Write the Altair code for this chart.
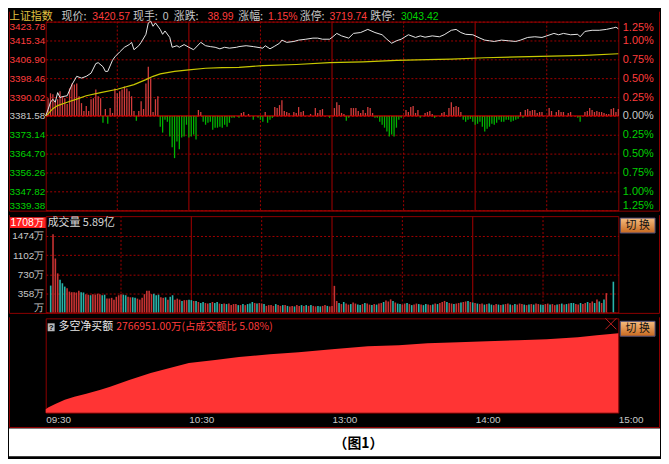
import altair as alt
import pandas as pd

PRE_CLOSE = 3381.58
W, H1, H2, H3 = 577, 190, 97, 95
LEFT, RIGHT = 37, 42
GRID = "#a00000"
BORDER = "#8c0000"
RED_T = "#ff3c3c"
GREEN_T = "#00d000"
GREY_T = "#c8c8c8"
CJK = "Noto Sans CJK SC"
NUM = "Liberation Sans"

# ---------------- data ----------------
price_ticks = [3339.38, 3347.82, 3356.26, 3364.70, 3373.14, 3381.58,
               3390.02, 3398.46, 3406.90, 3415.34, 3423.78]
time_tick_min = [0, 60, 120, 180, 240]
time_tick_lab = ["09:30", "10:30", "13:00", "14:00", "15:00"]
grid_solid_min = [60, 120, 180]
grid_dot_min = [30, 90, 150, 210]
vol_ticks = [0, 358, 730, 1102, 1474]

price_min = [0, 1, 2, 3, 4, 5, 6, 7, 9, 11, 13, 15, 17, 19, 21, 22, 24, 25, 26, 28,
             29, 31, 33, 35, 36, 37, 39, 40, 42, 43, 44, 45, 46, 48, 49, 50, 52, 53, 55, 56,
             58, 60, 62, 65, 67, 69, 71, 73, 75, 77, 80, 81, 84, 87, 91, 92, 94, 96, 98, 99,
             101, 104, 106, 109, 112, 114, 116, 119, 120, 122, 124, 127, 129, 132, 135, 138, 141, 143, 145, 147,
             149, 152, 155, 157, 159, 162, 165, 167, 170, 172, 174, 176, 179, 182, 184, 186, 188, 191, 194, 197,
             199, 202, 205, 208, 210, 213, 215, 217, 220, 223, 224, 226, 229, 232, 235, 238, 239, 240]
price_val = [3381.6, 3384.5, 3387.7, 3389.0, 3387.7, 3392.0, 3389.8, 3390.2, 3390.6, 3395.6,
             3399.3, 3398.5, 3399.3, 3400.7, 3405.0, 3405.4, 3403.6, 3401.5, 3401.5, 3406.5,
             3408.0, 3410.2, 3412.3, 3413.5, 3414.5, 3411.2, 3413.0, 3414.5, 3418.1, 3423.2,
             3424.0, 3421.7, 3423.2, 3420.3, 3418.1, 3419.6, 3416.7, 3412.3, 3413.0, 3412.3,
             3413.5, 3412.3, 3411.2, 3414.5, 3413.0, 3412.6, 3412.3, 3411.6, 3412.3, 3411.9,
             3412.3, 3412.6, 3413.0, 3412.6, 3411.9, 3413.0, 3411.6, 3412.8, 3414.1, 3415.5,
             3414.5, 3414.9, 3415.5, 3415.9, 3416.4, 3416.4, 3415.9, 3415.9, 3416.7, 3418.5,
             3417.4, 3416.4, 3418.5, 3418.9, 3420.3, 3418.9, 3417.9, 3415.9, 3414.1, 3415.2,
             3415.9, 3417.9, 3416.7, 3417.4, 3416.8, 3417.4, 3417.0, 3417.9, 3419.9, 3420.3,
             3418.9, 3418.1, 3417.9, 3416.4, 3415.5, 3415.2, 3414.9, 3415.5, 3415.2, 3414.9,
             3415.5, 3416.7, 3417.0, 3416.7, 3417.4, 3418.5, 3417.9, 3418.5, 3417.9, 3418.1,
             3417.0, 3419.4, 3419.9, 3419.9, 3420.3, 3421.0, 3421.3, 3420.6]

avg_min = [0, 1, 3, 5, 9, 13, 17, 23, 30, 37, 42, 45, 48, 54, 60, 67, 74, 81, 91, 105,
           119, 133, 147, 160, 170, 184, 198, 212, 226, 240]
avg_val = [3381.6, 3382.5, 3384.8, 3386.2, 3387.7, 3389.1, 3390.6, 3392.0, 3393.5, 3395.6,
           3397.8, 3399.3, 3400.4, 3401.5, 3402.2, 3402.9, 3403.2, 3403.3, 3404.1, 3404.6,
           3405.4, 3405.8, 3406.4, 3406.8, 3407.0, 3407.6, 3408.0, 3408.3, 3408.7, 3409.4]

bar_min = [1, 2, 3, 4, 5, 6, 7, 8, 9, 10, 11, 12, 13, 14, 15, 16, 17, 18, 19, 20,
           21, 22, 23, 24, 25, 26, 27, 28, 29, 30, 31, 32, 33, 34, 35, 36, 37, 38, 39, 40,
           41, 42, 43, 44, 45, 46, 47, 48, 49, 50, 51, 52, 53, 54, 55, 56, 57, 58, 59, 60,
           61, 62, 63, 64, 65, 66, 67, 68, 69, 70, 71, 72, 73, 74, 75, 76, 77, 78, 79, 81,
           82, 83, 85, 87, 89, 90, 91, 92, 93, 94, 95, 96, 97, 98, 99, 100, 101, 102, 104, 105,
           106, 107, 108, 111, 113, 114, 115, 116, 119, 121, 122, 123, 124, 125, 126, 127, 128, 129, 130, 131,
           132, 133, 134, 135, 136, 137, 138, 139, 140, 141, 142, 143, 144, 145, 146, 147, 148, 149, 151, 152,
           153, 154, 155, 156, 157, 159, 160, 161, 162, 163, 166, 167, 168, 169, 170, 171, 172, 173, 174, 175,
           176, 177, 178, 179, 180, 181, 182, 183, 184, 185, 186, 187, 188, 189, 190, 191, 192, 193, 194, 195,
           196, 197, 198, 199, 200, 201, 202, 203, 204, 205, 206, 207, 208, 211, 212, 214, 215, 216, 217, 219,
           220, 223, 224, 226, 227, 228, 229, 230, 231, 232, 233, 234, 235, 236, 237, 238, 239, 240]
bar_val = [18, 23, 22, 15, 17, 25, 20, 18, 12, 28, 33, 32, 33, 20, 13, 5, 10, 5, 17, 18,
           27, 20, 18, -7, 7, -8, 8, 3, 28, 23, 25, 27, 30, 28, 25, 20, 5, -5, 5, 15,
           7, 33, 50, 38, 4, 17, 20, -11, -17, -4, -6, -21, -32, -43, -26, -34, -22, -21, -9, -22,
           -21, -19, -24, 6, 4, -6, -9, -7, -6, -14, -12, -12, -11, -12, -9, -11, -7, -2, -2, -2,
           3, 4, 2, -4, -2, -4, -6, 4, -7, -4, -2, 9, 8, 11, 16, 5, 4, 3, 4, 3,
           9, 4, 5, 2, 8, 3, 6, 7, -2, 8, 14, 11, 3, 2, -5, -2, 8, 8, 8, 5,
           3, 6, 3, 9, 8, 3, -2, -2, -6, -9, -12, -16, -21, -19, -21, -12, -4, -2, 6, 4,
           9, 10, 3, 6, -2, 3, 4, 5, 2, -2, 3, 4, 1, 8, 14, 9, 10, 9, 4, -4,
           -6, -4, -3, -6, -9, -8, -6, -11, -16, -13, -11, -8, -9, -7, -4, -6, -6, -4, -4, -6,
           -5, -4, -3, 4, -2, 6, 7, 5, 6, 6, 3, 4, 4, 8, 5, 4, 6, 4, 4, 3,
           4, -2, -6, 4, 5, 8, 6, 4, 5, 4, 4, 3, 2, 2, 7, 8, 4, 7]

# volume (万手) for each minute 0..240, and bar colour (r = up, t = down)
vol_val = [515, 1500, 1036, 750, 625, 560, 496, 465, 400, 388,
           388, 382, 414, 388, 382, 350, 340, 330, 350, 340,
           360, 350, 330, 340, 265, 265, 280, 245, 300, 330,
           350, 340, 330, 300, 290, 290, 280, 265, 245, 280,
           350, 414, 414, 350, 360, 330, 340, 290, 280, 290,
           245, 300, 330, 245, 265, 245, 220, 235, 235, 245,
           235, 220, 220, 200, 180, 200, 180, 170, 180, 200,
           180, 200, 170, 160, 170, 160, 170, 140, 160, 160,
           140, 140, 160, 140, 160, 170, 200, 180, 170, 180,
           170, 160, 125, 140, 140, 125, 160, 140, 125, 140,
           140, 125, 115, 125, 115, 140, 125, 140, 125, 140,
           125, 140, 125, 115, 125, 115, 125, 140, 125, 115,
           125, 510, 220,
           180, 160, 200, 170, 150, 160, 190, 170, 150, 140,
           160, 180, 170, 150, 140, 160, 150, 170, 180, 200,
           230, 210, 250, 220, 190, 170, 160, 150, 170, 180,
           160, 140, 150, 170, 160, 150, 140, 160, 150, 140,
           150, 170, 160, 180, 200, 220, 200, 180, 170, 160,
           170, 180, 190, 200, 210, 220, 200, 190, 180, 170,
           160, 170, 150, 160, 170, 150, 140, 160, 150, 140,
           150, 160, 170, 150, 140, 160, 150, 170, 160, 150,
           140, 150, 160, 150, 170, 160, 150, 140, 160, 170,
           150, 160, 140, 150, 160, 170, 150, 160, 170, 180,
           180, 160, 150, 180, 160, 180, 200, 180, 210, 180, 250, 210, 180, 250,
           370, 0, 0, 590]
vol_dir = list("trrrtttrrr" "rrrttrrtrr" "rrttrrrrrr" "rttrrttrrr" "rrrrtttrrt"
               "rttrrrtrrt" "trtrttrrtr" "ttrtrtrrrr" "trtrtttrtr" "rtrrrrtrrt"
               "rtrrtrrtrt" "rtrrttrrtr" "rrrtrtrrtr" "rttrtrrtrt" "rrtrrrtrtt"
               "rrtrtrrtrt" "trrtrtrrrt" "rrtrrtrrtr" "trtrrtrttr" "rtrtrrtrtr"
               "rrtrtrtrrt" "trrtrrtrtr" "trttrrtrrt" "rrtrtrtrrr" "t")

# cumulative net buy amount (万元)
net_min = [0, 1, 4, 8, 12, 17, 23, 27, 35, 44, 52, 60, 71, 81, 94, 106, 120, 135,
           148, 160, 173, 185, 198, 210, 223, 231, 240]
net_val = [120000, 180000, 300000, 450000, 553000, 657000, 795000, 899000, 1141000, 1383000,
           1556000, 1729000, 1833000, 1937000, 2041000, 2110000, 2214000, 2317000,
           2352000, 2421000, 2456000, 2490000, 2525000, 2559000, 2629000, 2698000, 2766951]

# ---------------- helpers ----------------
one = pd.DataFrame({"k": [0]})
xs = alt.Scale(domain=[0, 240], nice=False, zero=False)
xh = alt.X("m:Q", scale=xs, axis=None)
ys_price = alt.Scale(domain=[price_ticks[0], price_ticks[-1]], nice=False, zero=False)


def txt(s, x, y, color, size=11, font=CJK, align="left", weight="normal"):
    return alt.Chart(one).mark_text(
        text=s, color=color, fontSize=size, font=font, align=align,
        baseline="middle", fontWeight=weight
    ).encode(x=alt.value(x), y=alt.value(y))


def box(x, x2, y, y2, fill, stroke=None):
    kw = {"fill": fill}
    if stroke:
        kw.update(stroke=stroke, strokeWidth=1)
    return alt.Chart(one).mark_rect(**kw).encode(
        x=alt.value(x), x2=alt.value(x2), y=alt.value(y), y2=alt.value(y2))


def seg(x, x2, y, y2, color, width=1):
    return alt.Chart(one).mark_rule(color=color, strokeWidth=width).encode(
        x=alt.value(x), x2=alt.value(x2), y=alt.value(y), y2=alt.value(y2))


btn_fill = alt.Gradient(gradient="linear", x1=0, x2=0, y1=0, y2=1,
                        stops=[alt.GradientStop(color="#f6bd80", offset=0),
                               alt.GradientStop(color="#c8681e", offset=1)])


def button(y):
    return [box(W + 2, W + 37, y, y + 15, btn_fill, "#50507a"),
            txt("切 换", W + 19.5, y + 7.5, "#101010", size=11, align="center")]


def frame(h, top=0):
    # full-width separator lines and outer frame sides of a panel
    return [seg(-36.5, W + 41.5, h + 1, h + 1, BORDER),
            seg(-36.5, -36.5, top, h + 1, BORDER),
            seg(W + 41.5, W + 41.5, top, h + 1, BORDER)]


price_cond = {"condition": [
    {"test": f"datum.value > {PRE_CLOSE + 0.01}", "value": RED_T},
    {"test": f"datum.value < {PRE_CLOSE - 0.01}", "value": GREEN_T}],
    "value": GREY_T}

vsolid = alt.Chart(pd.DataFrame({"m": grid_solid_min})).mark_rule(
    color=BORDER, strokeWidth=1.2).encode(x=xh)
vdot = alt.Chart(pd.DataFrame({"m": grid_dot_min})).mark_rule(
    color=GRID, strokeDash=[2, 2]).encode(x=xh)

# ---------------- main panel ----------------
left_axis = alt.Axis(values=price_ticks, format=".2f", labelColor=price_cond,
                     grid=True, gridColor=GRID, gridDash=[2, 2], ticks=False, domain=False,
                     labelFont=NUM, labelFontSize=10, labelPadding=1, labelFlush=True,
                     labelOverlap=False, minExtent=LEFT, maxExtent=LEFT, title=None)
right_axis = alt.Axis(orient="right", values=price_ticks, labelColor=price_cond,
                      labelExpr=f"format(abs(datum.value - {PRE_CLOSE}) / {PRE_CLOSE} * 100, '.2f') + '%'",
                      grid=False, ticks=False, domain=False, labelFont=NUM, labelFontSize=11,
                      labelPadding=4, labelFlush=True, labelOverlap=False,
                      minExtent=RIGHT, maxExtent=RIGHT, title=None)

bar_scale = alt.Scale(domain=[-96, 96], nice=False, zero=False)
bars = alt.Chart(pd.DataFrame({"m": bar_min, "v": bar_val})).mark_rule(strokeWidth=1.3).encode(
    x=xh,
    y=alt.Y("v:Q", scale=bar_scale, axis=None),
    y2=alt.Y2Datum(0),
    color=alt.condition("datum.v > 0", alt.value("#d23c3c"), alt.value("#00b400")))
zero_line = alt.Chart(one).mark_rule(color="#e00000").encode(
    y=alt.YDatum(0, scale=bar_scale, axis=None))
avg_line = alt.Chart(pd.DataFrame({"m": avg_min, "p": avg_val})).mark_line(
    color="#c8c800", strokeWidth=1.2).encode(x=xh, y=alt.Y("p:Q", scale=ys_price, axis=right_axis))
price_line = alt.Chart(pd.DataFrame({"m": price_min, "p": price_val})).mark_line(
    color="#e6e6e6", strokeWidth=1).encode(x=xh, y=alt.Y("p:Q", scale=ys_price, axis=left_axis))

HY = -5
header = [
    txt("上证指数", -37, HY, "#e0c040"),
    txt("现价:", 16, HY, GREY_T), txt("3420.57", 47, HY, RED_T, size=10.5, font=NUM),
    txt("现手:", 88, HY, GREY_T), txt("0", 118, HY, GREY_T, size=10.5, font=NUM),
    txt("涨跌:", 129, HY, GREY_T), txt("38.99", 163, HY, RED_T, size=10.5, font=NUM),
    txt("涨幅:", 194, HY, GREY_T), txt("1.15%", 224, HY, RED_T, size=10.5, font=NUM),
    txt("涨停:", 256, HY, GREY_T), txt("3719.74", 286, HY, RED_T, size=10.5, font=NUM),
    txt("跌停:", 327, HY, GREY_T), txt("3043.42", 358, HY, GREEN_T, size=10.5, font=NUM),
]

main = alt.layer(vdot, vsolid, bars, zero_line, avg_line, price_line, *header,
                 *frame(H1, top=-10)).resolve_scale(
    y="independent").properties(width=W, height=H1)

# ---------------- volume panel ----------------
vol_axis = alt.Axis(values=vol_ticks, labelExpr="datum.value == 0 ? '万' : datum.value + '万'",
                    grid=True, gridColor=GRID, gridDash=[2, 2], ticks=False, domain=False,
                    labelColor=GREY_T, labelFont=NUM, labelFontSize=10, labelPadding=2,
                    labelBaseline={"condition": {"test": "datum.value == 0", "value": "bottom"},
                                   "value": "middle"},
                    labelOverlap=False, minExtent=LEFT, maxExtent=LEFT, title=None)
vol_bars = alt.Chart(pd.DataFrame({"m": list(range(241)), "v": vol_val, "d": vol_dir})).mark_bar(
    size=1.6).encode(
    x=xh,
    y=alt.Y("v:Q", scale=alt.Scale(domain=[0, 1850], nice=False), axis=vol_axis),
    color=alt.condition("datum.d == 'r'", alt.value("#c83232"), alt.value("#28b4aa")))

vol = alt.layer(
    vdot, vsolid, vol_bars,
    box(-36, 0, 1, 12, "#ff2020"),
    txt("1708万", -2, 6.5, "#ffffff", size=10.5, font=NUM, align="right"),
    txt("成交量  5.89亿", 2, 6.5, "#d8d8d8"),
    *button(2),
    *frame(H2, top=-1),
).properties(width=W, height=H2)

# ---------------- net buy panel ----------------
lab_expr = " : ".join(f"datum.value == {m} ? '{t}'" for m, t in zip(time_tick_min, time_tick_lab)) + " : ''"
x_axis = alt.Axis(values=time_tick_min, labelExpr=lab_expr, labelAlign="left", labelBaseline="top",
                  ticks=False, domain=False, grid=False, labelColor=GREY_T, labelFont=NUM,
                  labelFontSize=10, labelPadding=2, labelFlush=False, labelOverlap=False, title=None)
area = alt.Chart(pd.DataFrame({"m": net_min, "v": net_val})).mark_area(
    color="#ff3434", interpolate="linear").encode(
    x=alt.X("m:Q", scale=xs, axis=x_axis),
    y=alt.Y("v:Q", scale=alt.Scale(domain=[0, 3290000], nice=False), axis=None))

net = alt.layer(
    area,
    box(2, 9, 5, 13, "#b8b8b8"),
    txt("?", 5.5, 9.3, "#000000", size=8, font=NUM, align="center", weight="bold"),
    txt("多空净买额", 13, 9, "#e8e8e8"),
    txt("2766951.00万(占成交额比 5.08%)", 71, 9, RED_T, size=10.5),
    seg(564, 575, 0, 11, "#c02020"), seg(564, 575, 11, 0, "#c02020"),
    *button(3),
    *frame(H3 + 14, top=-1),
    box(-37, W + 42, H3 + 16, H3 + 44, "#ffffff"),
    txt("（图1）", 290, H3 + 32, "#000000", size=14, weight="bold"),
).properties(width=W, height=H3)

chart = alt.vconcat(main, vol, net, spacing=2).properties(
    background="#000000", padding=0
).configure_view(stroke=BORDER, strokeWidth=1)

chart.save("out.html", embed_options={"renderer": "svg", "actions": False})
